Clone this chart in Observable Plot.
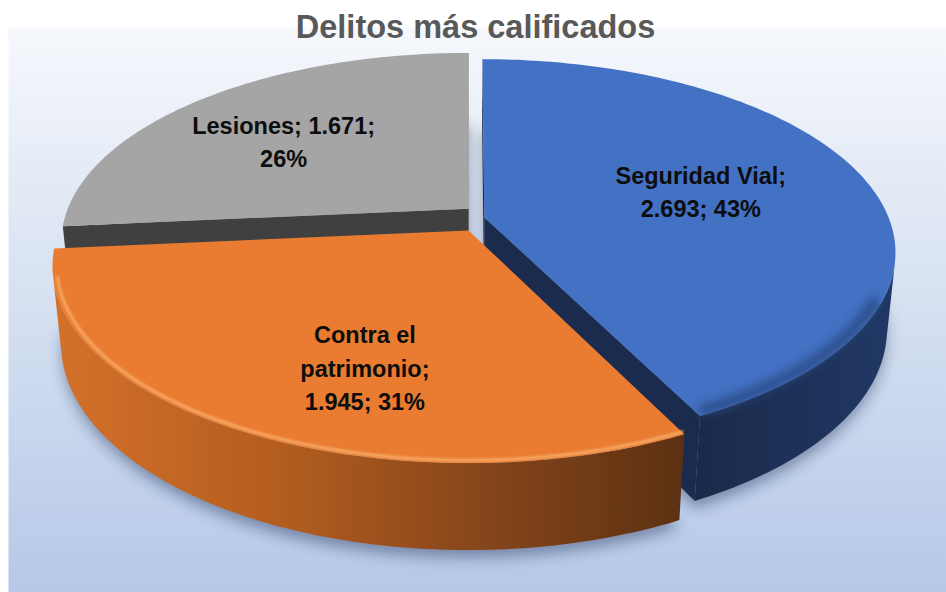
<!DOCTYPE html>
<html><head><meta charset="utf-8">
<script src="https://cdn.jsdelivr.net/npm/d3@7"></script>
<script src="https://cdn.jsdelivr.net/npm/@observablehq/plot@0.6"></script>
<style>body{margin:0;background:#fff;} #chart{width:946px;height:592px;}</style>
</head><body><div id="chart"></div>
<script>
// ---- data ----
const title = "Delitos más calificados";
const categories = ["Seguridad Vial", "Contra el patrimonio", "Lesiones"];
const values = [2693, 1945, 1671];

// ---- styles ----
const topColors = ["#4371c3", "#e97c30", "#a5a5a5"];
const cutColors = ["#1a2b4d", "#7a4016", "#404040"];
const sideFills = ["url(#sideBlue)", "url(#sideOrange)", "#4a4a4a"];
const FONT = "Liberation Sans, Arial, sans-serif";

// ---- layout (3D view) ----
const W = 946, H = 592;
const cam = {cx: 470.5, cy: 219, f: 2025, D: 5.0, phi: 27.5 * Math.PI / 180, t: 0.215};
const explode = [[0.033, -0.011], [-0.006, 0.058], [-0.006, -0.058]];
const labelPlace = [[0.486, 0.571], [0.4135, 0.669], [0.467, 0.638]];
const labelWrap = [16, 11, 17];

const sn = Math.sin(cam.phi), cs = Math.cos(cam.phi);
function proj(u, v, w) {
  const depth = cam.D - v * cs - w * sn;
  return [cam.cx + cam.f * u / depth, cam.cy + cam.f * (v * sn - w * cs) / depth];
}

const total = d3.sum(values);
const loc = d3.formatLocale({decimal: ",", thousands: ".", grouping: [3], currency: ["", "€"]});
const fmt = loc.format(",");
const arcs = d3.pie().sort(null).value(d => d)(values);

function wrap(text, max) {
  const words = text.split(" "), lines = [];
  let cur = "";
  for (const w of words) {
    if (!cur) cur = w;
    else if ((cur + " " + w).length <= max) cur += " " + w;
    else { lines.push(cur); cur = w; }
  }
  if (cur) lines.push(cur);
  return lines.join("\n");
}

function angles(a0, a1) {
  const n = Math.max(2, Math.ceil((a1 - a0) * 60));
  return d3.range(n + 1).map(k => a0 + (a1 - a0) * k / n);
}

const slices = arcs.map((a, i) => {
  const [ou, ov] = explode[i];
  const rim = (th, r, w) => proj(ou + r * Math.sin(th), ov - r * Math.cos(th), w);
  const A = angles(a.startAngle, a.endAngle);
  const top = [proj(ou, ov, 0), ...A.map(th => rim(th, 1, 0))];
  const bottom = [proj(ou, ov, -cam.t - 0.02), ...A.map(th => rim(th, 1, -cam.t - 0.02))];
  const vis = A.filter(th => -ou * Math.sin(th) - (cam.D * cs - ov) * Math.cos(th) > 1);
  const side = vis.length > 1 ? [...vis.map(th => rim(th, 1, 0)), ...vis.slice().reverse().map(th => rim(th, 1, -cam.t))] : null;
  const cuts = [];
  const faces = [[a.startAngle, [-Math.cos(a.startAngle), -Math.sin(a.startAngle)]],
                 [a.endAngle, [Math.cos(a.endAngle), Math.sin(a.endAngle)]]];
  for (const [th, n] of faces) {
    if (-ou * n[0] + (cam.D * cs - ov) * n[1] > 0) {
      cuts.push([proj(ou, ov, 0), rim(th, 1, 0), rim(th, 1, -cam.t), proj(ou, ov, -cam.t)]);
    }
  }
  const v0 = vis.length ? vis[0] : a.startAngle;
  const softRim = angles(Math.max(v0 + 0.2, a.startAngle), a.endAngle - 0.02).map(th => rim(th, 0.985, 0));
  const hiRim = vis.length > 1 ? vis.map(th => rim(th, 0.99, 0)) : null;
  const mid = (a.startAngle + a.endAngle) / 2;
  const [lf, lr] = labelPlace[i];
  const lth = a.startAngle + (a.endAngle - a.startAngle) * lf;
  const lp = rim(lth, lr, 0);
  const pct = Math.round(values[i] / total * 100);
  const label = wrap(`${categories[i]}; ${fmt(values[i])}; ${pct}%`, labelWrap[i]);
  return {i, top, bottom, side, cuts, softRim, hiRim, depth: ov - 0.6 * Math.cos(mid), lx: lp[0], ly: lp[1], label};
});

const P = d => d[0], Q = d => d[1];
const poly = (pts, opts) => Plot.line(pts, {x: P, y: Q, stroke: "none", curve: "linear", ...opts});

const marks = [
  Plot.frame({fill: "url(#bgGrad)", stroke: "none", insetLeft: 8, insetTop: 27}),
  Plot.text([title], {text: d => d, frameAnchor: "top", dx: 2, dy: 14, lineAnchor: "top",
    fontSize: 32.5, fontWeight: "bold", fill: "#595959", fontFamily: FONT}),
];
for (const sl of slices) marks.push(poly(sl.bottom, {fill: "#23365c", fillOpacity: 0.45, ariaDescription: "shadow"}));

for (const sl of slices.slice().sort((a, b) => a.depth - b.depth)) {
  for (const cut of sl.cuts) marks.push(poly(cut, {fill: cutColors[sl.i]}));
  if (sl.side) marks.push(poly(sl.side, {fill: sideFills[sl.i]}));
  marks.push(poly(sl.top, {fill: topColors[sl.i]}));
  if (sl.i === 0) marks.push(Plot.line(sl.softRim, {x: P, y: Q, stroke: "#26467f", strokeWidth: 12, strokeOpacity: 0.75, ariaDescription: "rim-soft"}));
  if (sl.hiRim && sl.i === 1) marks.push(Plot.line(sl.hiRim, {x: P, y: Q, stroke: "#f7a865", strokeWidth: 3, ariaDescription: "rim-hi"}));
}

marks.push(Plot.text(slices, {x: "lx", y: "ly", text: "label", fontSize: 23.5, fontWeight: "bold",
  fontFamily: FONT, lineHeight: 1.42, fill: "#0d0d0d", textAnchor: "middle", lineAnchor: "middle"}));

const svg = Plot.plot({
  width: W, height: H, margin: 0,
  x: {domain: [0, W], range: [0, W]},
  y: {domain: [0, H], range: [0, H]},
  axis: null,
  style: {background: "transparent", overflow: "visible"},
  marks
});

const sel = d3.select(svg);
const defs = sel.insert("defs", ":first-child");
const lg = (id, stops, vertical) => {
  const g = defs.append("linearGradient").attr("id", id)
    .attr("x1", 0).attr("y1", 0).attr("x2", vertical ? 0 : 1).attr("y2", vertical ? 1 : 0);
  for (const [o, col] of stops) g.append("stop").attr("offset", o).attr("stop-color", col);
};
lg("bgGrad", [[0, "#f6f8fc"], [0.45, "#d8e2f2"], [1, "#b6c8e8"]], true);
lg("sideOrange", [[0, "#d4712a"], [0.35, "#b45e1f"], [0.7, "#84441a"], [1, "#5c3112"]], false);
lg("sideBlue", [[0, "#1a2a4a"], [1, "#213865"]], false);
const blur = (id, sd) => defs.append("filter").attr("id", id).attr("x", "-20%").attr("y", "-20%")
  .attr("width", "140%").attr("height", "140%")
  .append("feGaussianBlur").attr("stdDeviation", sd);
blur("fShadow", 7); blur("fSoft", 4.5); blur("fHi", 1.2);
sel.selectAll('g[aria-description="shadow"]').attr("filter", "url(#fShadow)");
sel.selectAll('g[aria-description="rim-soft"]').attr("filter", "url(#fSoft)");
sel.selectAll('g[aria-description="rim-hi"]').attr("filter", "url(#fHi)");

document.getElementById("chart").appendChild(svg);
</script>
</body></html>
